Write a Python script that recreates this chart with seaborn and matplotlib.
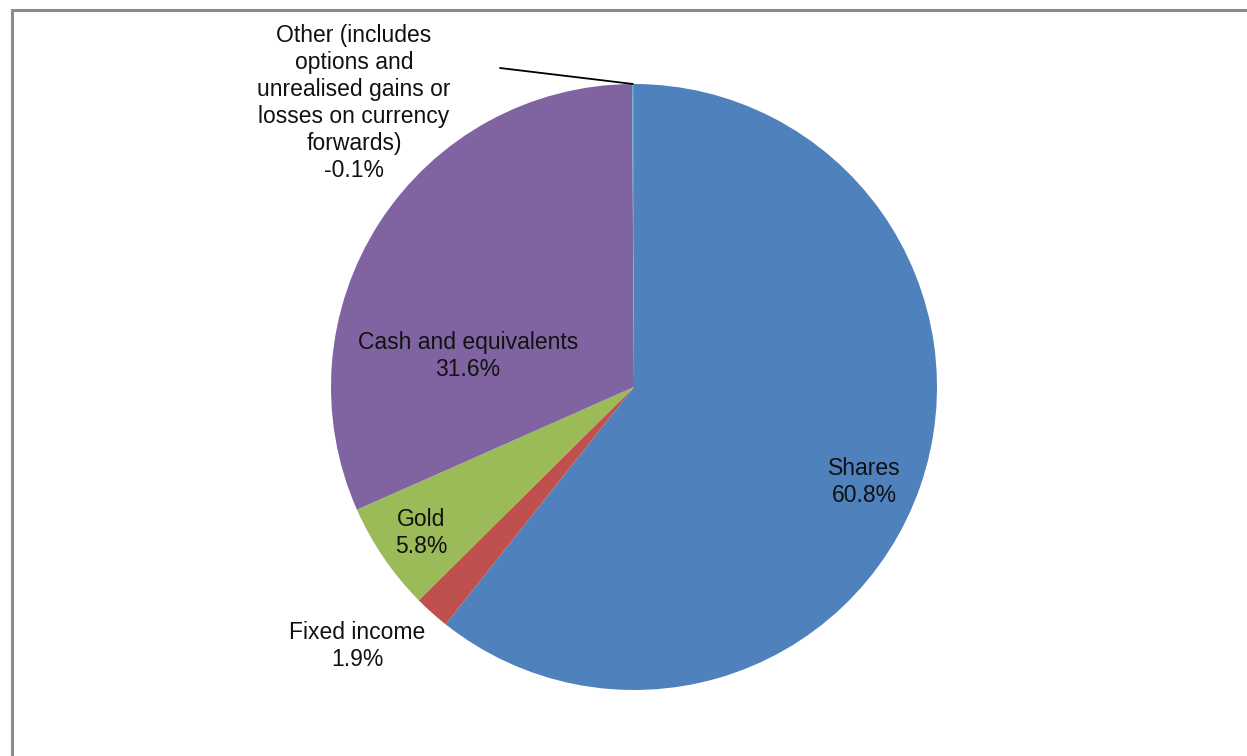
import matplotlib
matplotlib.use("Agg")
import matplotlib.pyplot as plt
import seaborn as sns

# ---- data ----
categories = ["Shares", "Fixed income", "Gold", "Cash and equivalents",
              "Other (includes\noptions and\nunrealised gains or\nlosses on currency\nforwards)"]
values = [60.8, 1.9, 5.8, 31.6, -0.1]
colors = ["#4F81BD", "#C0504D", "#9BBB59", "#8064A2", "#4BACC6"]

sns.set_theme(style="white")
plt.rcParams["font.family"] = ["Liberation Sans", "DejaVu Sans"]

W, H = 1247, 756
fig = plt.figure(figsize=(W / 100, H / 100), dpi=100)
fig.patch.set_facecolor("white")
ax = fig.add_axes([0, 0, 1, 1])

cx, cy, r = 634, H - 387, 303
sizes = [abs(v) for v in values]
wedges, _ = ax.pie(sizes, colors=colors, startangle=90, counterclock=False,
                   center=(cx, cy), radius=r, wedgeprops=dict(linewidth=0))

ax.set_xlim(0, W)
ax.set_ylim(0, H)
ax.set_aspect("auto")
ax.axis("off")

# label positions (pixel coords, top-left origin)
label_pos = [(864, 482), (357, 646), (421, 533), (468, 356), (354, 103)]
for cat, val, (lx, ly) in zip(categories, values, label_pos):
    ax.text(lx, H - ly, f"{cat}\n{val:.1f}%", ha="center", va="center",
            fontsize=16.5, color="#111111", linespacing=1.22)

# leader line for "Other"
ax.plot([500, 633], [H - 68, H - 84], color="black", lw=1.3, clip_on=False)

# chart frame (left and top edges visible)
ax.plot([12, 12, W + 5], [-5, H - 10, H - 10], color="#8c8c8c", lw=2.2,
        clip_on=False, solid_joinstyle="miter")

fig.savefig("out.png", dpi=100, facecolor="white")
